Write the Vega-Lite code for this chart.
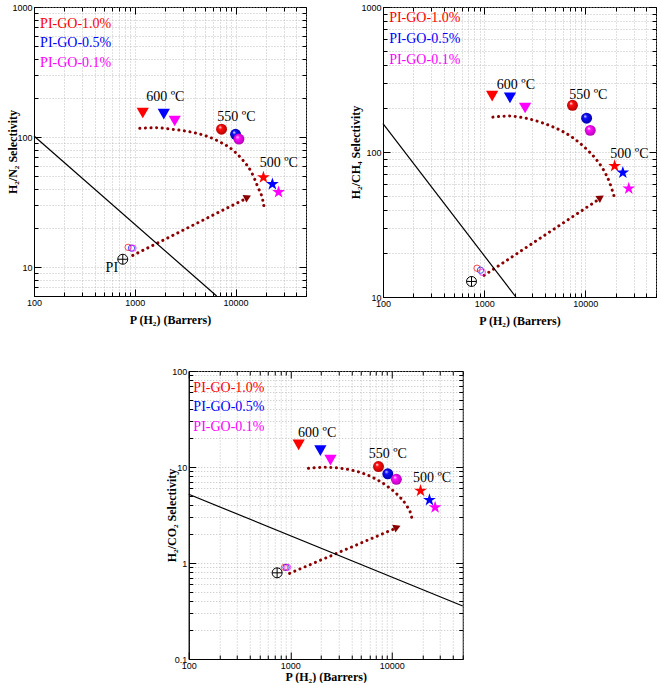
{
"$schema": "https://vega.github.io/schema/vega-lite/v6.json",
"padding": {"left": 5, "top": 2, "right": 0, "bottom": 0},
"background": "white",
"config": {
  "view": {"stroke": "black", "strokeWidth": 1},
  "axis": {"labelFont": "Liberation Sans", "labelFontSize": 9, "labelColor": "black", "titleFont": "Liberation Serif", "titleFontSize": 12, "titleFontWeight": "bold", "titleColor": "black", "domainColor": "black", "tickColor": "black", "gridColor": "#b0b0b0", "gridDash": [1, 2], "gridWidth": 0.8, "labelFlush": false, "labelOverlap": false, "tickSize": -4, "labelPadding": 9, "minExtent": 0},
  "axisY": {"minExtent": 0},
  "text": {"font": "Liberation Serif", "fontSize": 14}
},
"center": true,
"spacing": 39,
"vconcat": [
{"spacing": 41, "hconcat": [
{
 "width": 272, "height": 289,
 "data": {"values": [
  {"k":"rob","x":100,"y":102},{"k":"rob","x":6490,"y":6},
  {"k":"arc","o":1,"x":1121,"y":116.7},{"k":"arc","o":2,"x":1641,"y":117.9},{"k":"arc","o":3,"x":2394,"y":114.6},{"k":"arc","o":4,"x":3508,"y":109.8},{"k":"arc","o":5,"x":5130,"y":101.8},{"k":"arc","o":6,"x":6950,"y":92},{"k":"arc","o":7,"x":9400,"y":79.4},{"k":"arc","o":8,"x":11800,"y":66.5},{"k":"arc","o":9,"x":14300,"y":54.1},{"k":"arc","o":10,"x":16600,"y":41.5},{"k":"arc","o":11,"x":18600,"y":32.8},{"k":"arc","o":12,"x":19400,"y":27.5},
  {"k":"arw","o":1,"x":955,"y":12.3},{"k":"arw","o":2,"x":12800,"y":33.8},
  {"k":"head","x":13200,"y":34.5},
  {"k":"tri","s":"PI-GO-1.0%","x":1200,"y":153},{"k":"tri","s":"PI-GO-0.5%","x":1940,"y":150},{"k":"tri","s":"PI-GO-0.1%","x":2490,"y":133},
  {"k":"sph","s":"PI-GO-1.0%","x":7260,"y":115},{"k":"sph","s":"PI-GO-0.5%","x":10000,"y":105},{"k":"sph","s":"PI-GO-0.1%","x":10800,"y":96.5},
  {"k":"star","s":"PI-GO-1.0%","x":18900,"y":49},{"k":"star","s":"PI-GO-0.5%","x":23200,"y":43.5},{"k":"star","s":"PI-GO-0.1%","x":26700,"y":37.7},
  {"k":"open","s":"PI-GO-1.0%","x":859,"y":14.2},{"k":"open","s":"PI-GO-0.5%","x":927,"y":14},{"k":"open","s":"PI-GO-0.1%","x":960,"y":14},
  {"k":"pi","x":760,"y":11.5},
  {"k":"pil","x":592,"y":9.8,"t":"PI"},
  {"k":"lab","x":2010,"y":204,"t":"600 ºC"},{"k":"lab","x":10200,"y":143,"t":"550 ºC"},{"k":"lab","x":26900,"y":62.8,"t":"500 ºC"},
  {"k":"leg","s":"PI-GO-1.0%","x":115,"y":736,"t":"PI-GO-1.0%"},{"k":"leg","s":"PI-GO-0.5%","x":115,"y":531,"t":"PI-GO-0.5%"},{"k":"leg","s":"PI-GO-0.1%","x":115,"y":373,"t":"PI-GO-0.1%"}
 ]},
 "resolve": {"axis": {"x": "independent", "y": "independent"}},
 "layer": [
  {"layer": [
   {"transform": [{"filter": "datum.k=='arc'"}], "mark": {"type": "line", "color": "#8b0000", "strokeWidth": 3, "strokeDash": [0.1, 5.5], "strokeCap": "round", "interpolate": "monotone"},
    "encoding": {
     "x": {"field": "x", "type": "quantitative", "scale": {"type": "log", "domain": [100, 50000], "nice": false}, "axis": {"orient": "bottom", "title": "P (H₂) (Barrers)", "titlePadding": 4, "grid": true, "tickSize": {"condition": {"test": "indexof([100,1000,10000], datum.value) >= 0", "value": -7}, "value": -4}, "values": [100,200,300,400,500,600,700,800,900,1000,2000,3000,4000,5000,6000,7000,8000,9000,10000,20000,30000,40000,50000], "labelExpr": "indexof([100,1000,10000], datum.value) >= 0 ? format(datum.value, 'd') : ''"}},
     "y": {"field": "y", "type": "quantitative", "scale": {"type": "log", "domain": [6, 1000], "nice": false}, "axis": {"orient": "left", "title": "H₂/N₂ Selectivity", "titleX": -15, "labelPadding": 9, "grid": true, "tickSize": {"condition": {"test": "indexof([10,100,1000], datum.value) >= 0", "value": -7}, "value": -4}, "values": [6,7,8,9,10,20,30,40,50,60,70,80,90,100,200,300,400,500,600,700,800,900,1000], "labelExpr": "indexof([10,100,1000], datum.value) >= 0 ? format(datum.value, '~g') : ''"}},
     "order": {"field": "o", "type": "quantitative"}}},
   {"transform": [{"filter": "datum.k=='arw'"}], "mark": {"type": "line", "color": "#8b0000", "strokeWidth": 3, "strokeDash": [0.1, 5.5], "strokeCap": "round"},
    "encoding": {"x": {"field": "x", "type": "quantitative"}, "y": {"field": "y", "type": "quantitative"}, "order": {"field": "o", "type": "quantitative"}}},
   {"transform": [{"filter": "datum.k=='head'"}], "mark": {"type": "point", "shape": "triangle-right", "filled": true, "color": "#8b0000", "size": 70, "angle": 333, "opacity": 1},
    "encoding": {"x": {"field": "x", "type": "quantitative"}, "y": {"field": "y", "type": "quantitative"}}},
   {"transform": [{"filter": "datum.k=='tri'"}], "mark": {"type": "point", "shape": "triangle-down", "filled": true, "size": 150, "opacity": 1},
    "encoding": {"x": {"field": "x", "type": "quantitative"}, "y": {"field": "y", "type": "quantitative"}, "color": {"field": "s", "type": "nominal", "scale": {"domain": ["PI-GO-1.0%","PI-GO-0.5%","PI-GO-0.1%"], "range": ["#ff0000","#0000ff","#ff00ff"]}, "legend": null}}},
   {"transform": [{"filter": "datum.k=='sph' && datum.s=='PI-GO-1.0%'"}], "mark": {"type": "point", "shape": "circle", "filled": true, "size": 120, "opacity": 1, "color": {"gradient": "radial", "x1": 0.35, "y1": 0.3, "r1": 0, "x2": 0.5, "y2": 0.5, "r2": 0.55, "stops": [{"offset": 0, "color": "#ffffff"}, {"offset": 0.3, "color": "#ff1010"}, {"offset": 1, "color": "#b00000"}]}},
    "encoding": {"x": {"field": "x", "type": "quantitative"}, "y": {"field": "y", "type": "quantitative"}}},
   {"transform": [{"filter": "datum.k=='sph' && datum.s=='PI-GO-0.5%'"}], "mark": {"type": "point", "shape": "circle", "filled": true, "size": 120, "opacity": 1, "color": {"gradient": "radial", "x1": 0.35, "y1": 0.3, "r1": 0, "x2": 0.5, "y2": 0.5, "r2": 0.55, "stops": [{"offset": 0, "color": "#ffffff"}, {"offset": 0.3, "color": "#1010ff"}, {"offset": 1, "color": "#0000a0"}]}},
    "encoding": {"x": {"field": "x", "type": "quantitative"}, "y": {"field": "y", "type": "quantitative"}}},
   {"transform": [{"filter": "datum.k=='sph' && datum.s=='PI-GO-0.1%'"}], "mark": {"type": "point", "shape": "circle", "filled": true, "size": 120, "opacity": 1, "color": {"gradient": "radial", "x1": 0.35, "y1": 0.3, "r1": 0, "x2": 0.5, "y2": 0.5, "r2": 0.55, "stops": [{"offset": 0, "color": "#ffffff"}, {"offset": 0.3, "color": "#ff10ff"}, {"offset": 1, "color": "#b000b0"}]}},
    "encoding": {"x": {"field": "x", "type": "quantitative"}, "y": {"field": "y", "type": "quantitative"}}},
   {"transform": [{"filter": "datum.k=='star'"}], "mark": {"type": "point", "shape": "M0,-1L0.2245,-0.309L0.951,-0.309L0.363,0.118L0.588,0.809L0,0.382L-0.588,0.809L-0.363,0.118L-0.951,-0.309L-0.2245,-0.309Z", "filled": true, "size": 180, "opacity": 1},
    "encoding": {"x": {"field": "x", "type": "quantitative"}, "y": {"field": "y", "type": "quantitative"}, "color": {"field": "s", "type": "nominal", "legend": null}}},
   {"transform": [{"filter": "datum.k=='open'"}], "mark": {"type": "point", "shape": "circle", "filled": false, "size": 40, "strokeWidth": 1, "opacity": 0.7},
    "encoding": {"x": {"field": "x", "type": "quantitative"}, "y": {"field": "y", "type": "quantitative"}, "color": {"field": "s", "type": "nominal", "legend": null}}},
   {"transform": [{"filter": "datum.k=='pi'"}], "mark": {"type": "point", "shape": "M-1,0A1,1,0,1,1,1,0A1,1,0,1,1,-1,0ZM-1,0L1,0M0,-1L0,1", "filled": false, "size": 100, "strokeWidth": 1, "color": "black", "opacity": 1},
    "encoding": {"x": {"field": "x", "type": "quantitative"}, "y": {"field": "y", "type": "quantitative"}}},
   {"transform": [{"filter": "datum.k=='pil' || datum.k=='lab'"}], "mark": {"type": "text", "align": "center", "baseline": "middle", "color": "black"},
    "encoding": {"x": {"field": "x", "type": "quantitative"}, "y": {"field": "y", "type": "quantitative"}, "text": {"field": "t"}}},
   {"transform": [{"filter": "datum.k=='leg'"}], "mark": {"type": "text", "align": "left", "baseline": "middle"},
    "encoding": {"x": {"field": "x", "type": "quantitative"}, "y": {"field": "y", "type": "quantitative"}, "text": {"field": "t"}, "color": {"field": "s", "type": "nominal", "legend": null}}}
  ]},
  {"transform": [{"filter": "datum.k=='rob'"}], "mark": {"type": "line", "color": "black", "strokeWidth": 1.2},
   "encoding": {
    "x": {"field": "x", "type": "quantitative", "scale": {"type": "log", "domain": [100, 50000], "nice": false}, "axis": {"orient": "top", "title": null, "labels": false, "grid": false, "domain": false, "titlePadding": 0, "minExtent": 0, "tickSize": {"condition": {"test": "indexof([100,1000,10000], datum.value) >= 0", "value": -7}, "value": -4}, "values": [100,200,300,400,500,600,700,800,900,1000,2000,3000,4000,5000,6000,7000,8000,9000,10000,20000,30000,40000,50000]}},
    "y": {"field": "y", "type": "quantitative", "scale": {"type": "log", "domain": [6, 1000], "nice": false}, "axis": {"orient": "right", "title": null, "labels": false, "grid": false, "domain": false, "titlePadding": 0, "minExtent": 0, "tickSize": {"condition": {"test": "indexof([10,100,1000], datum.value) >= 0", "value": -7}, "value": -4}, "values": [6,7,8,9,10,20,30,40,50,60,70,80,90,100,200,300,400,500,600,700,800,900,1000]}}}}
 ]
},
{
 "width": 273, "height": 290,
 "data": {"values": [
  {"k":"rob","x":100,"y":157},{"k":"rob","x":2060,"y":10},
  {"k":"arc","o":1,"x":1219,"y":174},{"k":"arc","o":2,"x":1774,"y":177},{"k":"arc","o":3,"x":2582,"y":171},{"k":"arc","o":4,"x":3750,"y":159},{"k":"arc","o":5,"x":5460,"y":143},{"k":"arc","o":6,"x":7350,"y":127},{"k":"arc","o":7,"x":9930,"y":107},{"k":"arc","o":8,"x":12400,"y":91.4},{"k":"arc","o":9,"x":15000,"y":76.1},{"k":"arc","o":10,"x":17400,"y":61.5},{"k":"arc","o":11,"x":19200,"y":49.9},
  {"k":"arw","o":1,"x":1000,"y":14.1},{"k":"arw","o":2,"x":13700,"y":47.3},
  {"k":"head","x":14200,"y":48.5},
  {"k":"tri","s":"PI-GO-1.0%","x":1200,"y":243},{"k":"tri","s":"PI-GO-0.5%","x":1800,"y":236},{"k":"tri","s":"PI-GO-0.1%","x":2540,"y":201},
  {"k":"sph","s":"PI-GO-1.0%","x":7470,"y":210},{"k":"sph","s":"PI-GO-0.5%","x":10300,"y":171},{"k":"sph","s":"PI-GO-0.1%","x":11200,"y":141},
  {"k":"star","s":"PI-GO-1.0%","x":19500,"y":80},{"k":"star","s":"PI-GO-0.5%","x":23500,"y":72},{"k":"star","s":"PI-GO-0.1%","x":26900,"y":56},
  {"k":"open","s":"PI-GO-1.0%","x":850,"y":15.8},{"k":"open","s":"PI-GO-0.5%","x":920,"y":15.3},{"k":"open","s":"PI-GO-0.1%","x":960,"y":14.8},
  {"k":"pi","x":750,"y":12.8},
  {"k":"lab","x":2060,"y":292,"t":"600 ºC"},{"k":"lab","x":10700,"y":247,"t":"550 ºC"},{"k":"lab","x":27300,"y":97.3,"t":"500 ºC"},
  {"k":"leg","s":"PI-GO-1.0%","x":115,"y":838,"t":"PI-GO-1.0%"},{"k":"leg","s":"PI-GO-0.5%","x":115,"y":601,"t":"PI-GO-0.5%"},{"k":"leg","s":"PI-GO-0.1%","x":115,"y":433,"t":"PI-GO-0.1%"}
 ]},
 "resolve": {"axis": {"x": "independent", "y": "independent"}},
 "layer": [
  {"layer": [
   {"transform": [{"filter": "datum.k=='arc'"}], "mark": {"type": "line", "color": "#8b0000", "strokeWidth": 3, "strokeDash": [0.1, 5.5], "strokeCap": "round", "interpolate": "monotone"},
    "encoding": {
     "x": {"field": "x", "type": "quantitative", "scale": {"type": "log", "domain": [100, 50000], "nice": false}, "axis": {"orient": "bottom", "title": "P (H₂) (Barrers)", "titlePadding": 4, "grid": true, "tickSize": {"condition": {"test": "indexof([100,1000,10000], datum.value) >= 0", "value": -7}, "value": -4}, "values": [100,200,300,400,500,600,700,800,900,1000,2000,3000,4000,5000,6000,7000,8000,9000,10000,20000,30000,40000,50000], "labelExpr": "indexof([100,1000,10000], datum.value) >= 0 ? format(datum.value, 'd') : ''"}},
     "y": {"field": "y", "type": "quantitative", "scale": {"type": "log", "domain": [10, 1000], "nice": false}, "axis": {"orient": "left", "title": "H₂/CH₄ Selectivity", "titleX": -21, "labelPadding": 9, "grid": true, "tickSize": {"condition": {"test": "indexof([10,100,1000], datum.value) >= 0", "value": -7}, "value": -4}, "values": [10,20,30,40,50,60,70,80,90,100,200,300,400,500,600,700,800,900,1000], "labelExpr": "indexof([10,100,1000], datum.value) >= 0 ? format(datum.value, '~g') : ''"}},
     "order": {"field": "o", "type": "quantitative"}}},
   {"transform": [{"filter": "datum.k=='arw'"}], "mark": {"type": "line", "color": "#8b0000", "strokeWidth": 3, "strokeDash": [0.1, 5.5], "strokeCap": "round"},
    "encoding": {"x": {"field": "x", "type": "quantitative"}, "y": {"field": "y", "type": "quantitative"}, "order": {"field": "o", "type": "quantitative"}}},
   {"transform": [{"filter": "datum.k=='head'"}], "mark": {"type": "point", "shape": "triangle-right", "filled": true, "color": "#8b0000", "size": 70, "angle": 327, "opacity": 1},
    "encoding": {"x": {"field": "x", "type": "quantitative"}, "y": {"field": "y", "type": "quantitative"}}},
   {"transform": [{"filter": "datum.k=='tri'"}], "mark": {"type": "point", "shape": "triangle-down", "filled": true, "size": 150, "opacity": 1},
    "encoding": {"x": {"field": "x", "type": "quantitative"}, "y": {"field": "y", "type": "quantitative"}, "color": {"field": "s", "type": "nominal", "scale": {"domain": ["PI-GO-1.0%","PI-GO-0.5%","PI-GO-0.1%"], "range": ["#ff0000","#0000ff","#ff00ff"]}, "legend": null}}},
   {"transform": [{"filter": "datum.k=='sph' && datum.s=='PI-GO-1.0%'"}], "mark": {"type": "point", "shape": "circle", "filled": true, "size": 120, "opacity": 1, "color": {"gradient": "radial", "x1": 0.35, "y1": 0.3, "r1": 0, "x2": 0.5, "y2": 0.5, "r2": 0.55, "stops": [{"offset": 0, "color": "#ffffff"}, {"offset": 0.3, "color": "#ff1010"}, {"offset": 1, "color": "#b00000"}]}},
    "encoding": {"x": {"field": "x", "type": "quantitative"}, "y": {"field": "y", "type": "quantitative"}}},
   {"transform": [{"filter": "datum.k=='sph' && datum.s=='PI-GO-0.5%'"}], "mark": {"type": "point", "shape": "circle", "filled": true, "size": 120, "opacity": 1, "color": {"gradient": "radial", "x1": 0.35, "y1": 0.3, "r1": 0, "x2": 0.5, "y2": 0.5, "r2": 0.55, "stops": [{"offset": 0, "color": "#ffffff"}, {"offset": 0.3, "color": "#1010ff"}, {"offset": 1, "color": "#0000a0"}]}},
    "encoding": {"x": {"field": "x", "type": "quantitative"}, "y": {"field": "y", "type": "quantitative"}}},
   {"transform": [{"filter": "datum.k=='sph' && datum.s=='PI-GO-0.1%'"}], "mark": {"type": "point", "shape": "circle", "filled": true, "size": 120, "opacity": 1, "color": {"gradient": "radial", "x1": 0.35, "y1": 0.3, "r1": 0, "x2": 0.5, "y2": 0.5, "r2": 0.55, "stops": [{"offset": 0, "color": "#ffffff"}, {"offset": 0.3, "color": "#ff10ff"}, {"offset": 1, "color": "#b000b0"}]}},
    "encoding": {"x": {"field": "x", "type": "quantitative"}, "y": {"field": "y", "type": "quantitative"}}},
   {"transform": [{"filter": "datum.k=='star'"}], "mark": {"type": "point", "shape": "M0,-1L0.2245,-0.309L0.951,-0.309L0.363,0.118L0.588,0.809L0,0.382L-0.588,0.809L-0.363,0.118L-0.951,-0.309L-0.2245,-0.309Z", "filled": true, "size": 180, "opacity": 1},
    "encoding": {"x": {"field": "x", "type": "quantitative"}, "y": {"field": "y", "type": "quantitative"}, "color": {"field": "s", "type": "nominal", "legend": null}}},
   {"transform": [{"filter": "datum.k=='open'"}], "mark": {"type": "point", "shape": "circle", "filled": false, "size": 40, "strokeWidth": 1, "opacity": 0.7},
    "encoding": {"x": {"field": "x", "type": "quantitative"}, "y": {"field": "y", "type": "quantitative"}, "color": {"field": "s", "type": "nominal", "legend": null}}},
   {"transform": [{"filter": "datum.k=='pi'"}], "mark": {"type": "point", "shape": "M-1,0A1,1,0,1,1,1,0A1,1,0,1,1,-1,0ZM-1,0L1,0M0,-1L0,1", "filled": false, "size": 100, "strokeWidth": 1, "color": "black", "opacity": 1},
    "encoding": {"x": {"field": "x", "type": "quantitative"}, "y": {"field": "y", "type": "quantitative"}}},
   {"transform": [{"filter": "datum.k=='lab'"}], "mark": {"type": "text", "align": "center", "baseline": "middle", "color": "black"},
    "encoding": {"x": {"field": "x", "type": "quantitative"}, "y": {"field": "y", "type": "quantitative"}, "text": {"field": "t"}}},
   {"transform": [{"filter": "datum.k=='leg'"}], "mark": {"type": "text", "align": "left", "baseline": "middle"},
    "encoding": {"x": {"field": "x", "type": "quantitative"}, "y": {"field": "y", "type": "quantitative"}, "text": {"field": "t"}, "color": {"field": "s", "type": "nominal", "legend": null}}}
  ]},
  {"transform": [{"filter": "datum.k=='rob'"}], "mark": {"type": "line", "color": "black", "strokeWidth": 1.2},
   "encoding": {
    "x": {"field": "x", "type": "quantitative", "scale": {"type": "log", "domain": [100, 50000], "nice": false}, "axis": {"orient": "top", "title": null, "labels": false, "grid": false, "domain": false, "titlePadding": 0, "minExtent": 0, "tickSize": {"condition": {"test": "indexof([100,1000,10000], datum.value) >= 0", "value": -7}, "value": -4}, "values": [100,200,300,400,500,600,700,800,900,1000,2000,3000,4000,5000,6000,7000,8000,9000,10000,20000,30000,40000,50000]}},
    "y": {"field": "y", "type": "quantitative", "scale": {"type": "log", "domain": [10, 1000], "nice": false}, "axis": {"orient": "right", "title": null, "labels": false, "grid": false, "domain": false, "titlePadding": 0, "minExtent": 0, "tickSize": {"condition": {"test": "indexof([10,100,1000], datum.value) >= 0", "value": -7}, "value": -4}, "values": [10,20,30,40,50,60,70,80,90,100,200,300,400,500,600,700,800,900,1000]}}}}
 ]
}
]},
{
 "width": 274, "height": 288,
 "data": {"values": [
  {"k":"rob","x":100,"y":5.2},{"k":"rob","x":50000,"y":0.356},
  {"k":"arc","o":1,"x":1510,"y":9.69},{"k":"arc","o":2,"x":2173,"y":9.93},{"k":"arc","o":3,"x":3163,"y":9.69},{"k":"arc","o":4,"x":4625,"y":8.93},{"k":"arc","o":5,"x":6760,"y":7.62},{"k":"arc","o":6,"x":9140,"y":6.24},{"k":"arc","o":7,"x":11460,"y":5.11},{"k":"arc","o":8,"x":13840,"y":4.02},{"k":"arc","o":9,"x":15500,"y":3.16},{"k":"arc","o":10,"x":16100,"y":2.63},
  {"k":"arw","o":1,"x":985,"y":0.78},{"k":"arw","o":2,"x":10900,"y":2.3},
  {"k":"head","x":11300,"y":2.36},
  {"k":"tri","s":"PI-GO-1.0%","x":1210,"y":17},{"k":"tri","s":"PI-GO-0.5%","x":1980,"y":14.8},{"k":"tri","s":"PI-GO-0.1%","x":2490,"y":11.8},
  {"k":"sph","s":"PI-GO-1.0%","x":7400,"y":10.1},{"k":"sph","s":"PI-GO-0.5%","x":9140,"y":8.5},{"k":"sph","s":"PI-GO-0.1%","x":11100,"y":7.45},
  {"k":"star","s":"PI-GO-1.0%","x":19200,"y":5.66},{"k":"star","s":"PI-GO-0.5%","x":23500,"y":4.53},{"k":"star","s":"PI-GO-0.1%","x":26700,"y":3.8},
  {"k":"open","s":"PI-GO-1.0%","x":877,"y":0.9},{"k":"open","s":"PI-GO-0.5%","x":910,"y":0.9},{"k":"open","s":"PI-GO-0.1%","x":940,"y":0.9},
  {"k":"pi","x":742,"y":0.79},
  {"k":"lab","x":1840,"y":22.4,"t":"600 ºC"},{"k":"lab","x":9140,"y":13.6,"t":"550 ºC"},{"k":"lab","x":24900,"y":7.6,"t":"500 ºC"},
  {"k":"leg","s":"PI-GO-1.0%","x":111,"y":66,"t":"PI-GO-1.0%"},{"k":"leg","s":"PI-GO-0.5%","x":111,"y":42.5,"t":"PI-GO-0.5%"},{"k":"leg","s":"PI-GO-0.1%","x":111,"y":26,"t":"PI-GO-0.1%"}
 ]},
 "resolve": {"axis": {"x": "independent", "y": "independent"}},
 "layer": [
  {"layer": [
   {"transform": [{"filter": "datum.k=='arc'"}], "mark": {"type": "line", "color": "#8b0000", "strokeWidth": 3, "strokeDash": [0.1, 5.5], "strokeCap": "round", "interpolate": "monotone"},
    "encoding": {
     "x": {"field": "x", "type": "quantitative", "scale": {"type": "log", "domain": [100, 50000], "nice": false}, "axis": {"orient": "bottom", "title": "P (H₂) (Barrers)", "titlePadding": -2, "grid": true, "tickSize": {"condition": {"test": "indexof([100,1000,10000], datum.value) >= 0", "value": -7}, "value": -4}, "values": [100,200,300,400,500,600,700,800,900,1000,2000,3000,4000,5000,6000,7000,8000,9000,10000,20000,30000,40000,50000], "labelExpr": "indexof([100,1000,10000], datum.value) >= 0 ? format(datum.value, 'd') : ''"}},
     "y": {"field": "y", "type": "quantitative", "scale": {"type": "log", "domain": [0.1, 100], "nice": false}, "axis": {"orient": "left", "title": "H₂/CO₂ Selectivity", "titleX": -10, "labelPadding": 9, "grid": true, "tickSize": {"condition": {"test": "indexof([0.1,1,10,100], datum.value) >= 0", "value": -7}, "value": -4}, "values": [0.1,0.2,0.3,0.4,0.5,0.6,0.7,0.8,0.9,1,2,3,4,5,6,7,8,9,10,20,30,40,50,60,70,80,90,100], "labelExpr": "indexof([0.1,1,10,100], datum.value) >= 0 ? format(datum.value, '~g') : ''"}},
     "order": {"field": "o", "type": "quantitative"}}},
   {"transform": [{"filter": "datum.k=='arw'"}], "mark": {"type": "line", "color": "#8b0000", "strokeWidth": 3, "strokeDash": [0.1, 5.5], "strokeCap": "round"},
    "encoding": {"x": {"field": "x", "type": "quantitative"}, "y": {"field": "y", "type": "quantitative"}, "order": {"field": "o", "type": "quantitative"}}},
   {"transform": [{"filter": "datum.k=='head'"}], "mark": {"type": "point", "shape": "triangle-right", "filled": true, "color": "#8b0000", "size": 70, "angle": 337, "opacity": 1},
    "encoding": {"x": {"field": "x", "type": "quantitative"}, "y": {"field": "y", "type": "quantitative"}}},
   {"transform": [{"filter": "datum.k=='tri'"}], "mark": {"type": "point", "shape": "triangle-down", "filled": true, "size": 150, "opacity": 1},
    "encoding": {"x": {"field": "x", "type": "quantitative"}, "y": {"field": "y", "type": "quantitative"}, "color": {"field": "s", "type": "nominal", "scale": {"domain": ["PI-GO-1.0%","PI-GO-0.5%","PI-GO-0.1%"], "range": ["#ff0000","#0000ff","#ff00ff"]}, "legend": null}}},
   {"transform": [{"filter": "datum.k=='sph' && datum.s=='PI-GO-1.0%'"}], "mark": {"type": "point", "shape": "circle", "filled": true, "size": 120, "opacity": 1, "color": {"gradient": "radial", "x1": 0.35, "y1": 0.3, "r1": 0, "x2": 0.5, "y2": 0.5, "r2": 0.55, "stops": [{"offset": 0, "color": "#ffffff"}, {"offset": 0.3, "color": "#ff1010"}, {"offset": 1, "color": "#b00000"}]}},
    "encoding": {"x": {"field": "x", "type": "quantitative"}, "y": {"field": "y", "type": "quantitative"}}},
   {"transform": [{"filter": "datum.k=='sph' && datum.s=='PI-GO-0.5%'"}], "mark": {"type": "point", "shape": "circle", "filled": true, "size": 120, "opacity": 1, "color": {"gradient": "radial", "x1": 0.35, "y1": 0.3, "r1": 0, "x2": 0.5, "y2": 0.5, "r2": 0.55, "stops": [{"offset": 0, "color": "#ffffff"}, {"offset": 0.3, "color": "#1010ff"}, {"offset": 1, "color": "#0000a0"}]}},
    "encoding": {"x": {"field": "x", "type": "quantitative"}, "y": {"field": "y", "type": "quantitative"}}},
   {"transform": [{"filter": "datum.k=='sph' && datum.s=='PI-GO-0.1%'"}], "mark": {"type": "point", "shape": "circle", "filled": true, "size": 120, "opacity": 1, "color": {"gradient": "radial", "x1": 0.35, "y1": 0.3, "r1": 0, "x2": 0.5, "y2": 0.5, "r2": 0.55, "stops": [{"offset": 0, "color": "#ffffff"}, {"offset": 0.3, "color": "#ff10ff"}, {"offset": 1, "color": "#b000b0"}]}},
    "encoding": {"x": {"field": "x", "type": "quantitative"}, "y": {"field": "y", "type": "quantitative"}}},
   {"transform": [{"filter": "datum.k=='star'"}], "mark": {"type": "point", "shape": "M0,-1L0.2245,-0.309L0.951,-0.309L0.363,0.118L0.588,0.809L0,0.382L-0.588,0.809L-0.363,0.118L-0.951,-0.309L-0.2245,-0.309Z", "filled": true, "size": 180, "opacity": 1},
    "encoding": {"x": {"field": "x", "type": "quantitative"}, "y": {"field": "y", "type": "quantitative"}, "color": {"field": "s", "type": "nominal", "legend": null}}},
   {"transform": [{"filter": "datum.k=='open'"}], "mark": {"type": "point", "shape": "circle", "filled": false, "size": 40, "strokeWidth": 1, "opacity": 0.7},
    "encoding": {"x": {"field": "x", "type": "quantitative"}, "y": {"field": "y", "type": "quantitative"}, "color": {"field": "s", "type": "nominal", "legend": null}}},
   {"transform": [{"filter": "datum.k=='pi'"}], "mark": {"type": "point", "shape": "M-1,0A1,1,0,1,1,1,0A1,1,0,1,1,-1,0ZM-1,0L1,0M0,-1L0,1", "filled": false, "size": 100, "strokeWidth": 1, "color": "black", "opacity": 1},
    "encoding": {"x": {"field": "x", "type": "quantitative"}, "y": {"field": "y", "type": "quantitative"}}},
   {"transform": [{"filter": "datum.k=='lab'"}], "mark": {"type": "text", "align": "center", "baseline": "middle", "color": "black"},
    "encoding": {"x": {"field": "x", "type": "quantitative"}, "y": {"field": "y", "type": "quantitative"}, "text": {"field": "t"}}},
   {"transform": [{"filter": "datum.k=='leg'"}], "mark": {"type": "text", "align": "left", "baseline": "middle"},
    "encoding": {"x": {"field": "x", "type": "quantitative"}, "y": {"field": "y", "type": "quantitative"}, "text": {"field": "t"}, "color": {"field": "s", "type": "nominal", "legend": null}}}
  ]},
  {"transform": [{"filter": "datum.k=='rob'"}], "mark": {"type": "line", "color": "black", "strokeWidth": 1.2},
   "encoding": {
    "x": {"field": "x", "type": "quantitative", "scale": {"type": "log", "domain": [100, 50000], "nice": false}, "axis": {"orient": "top", "title": null, "labels": false, "grid": false, "domain": false, "titlePadding": 0, "minExtent": 0, "tickSize": {"condition": {"test": "indexof([100,1000,10000], datum.value) >= 0", "value": -7}, "value": -4}, "values": [100,200,300,400,500,600,700,800,900,1000,2000,3000,4000,5000,6000,7000,8000,9000,10000,20000,30000,40000,50000]}},
    "y": {"field": "y", "type": "quantitative", "scale": {"type": "log", "domain": [0.1, 100], "nice": false}, "axis": {"orient": "right", "title": null, "labels": false, "grid": false, "domain": false, "titlePadding": 0, "minExtent": 39, "tickSize": {"condition": {"test": "indexof([0.1,1,10,100], datum.value) >= 0", "value": -7}, "value": -4}, "values": [0.1,0.2,0.3,0.4,0.5,0.6,0.7,0.8,0.9,1,2,3,4,5,6,7,8,9,10,20,30,40,50,60,70,80,90,100]}}}}
 ]
}
]
}
